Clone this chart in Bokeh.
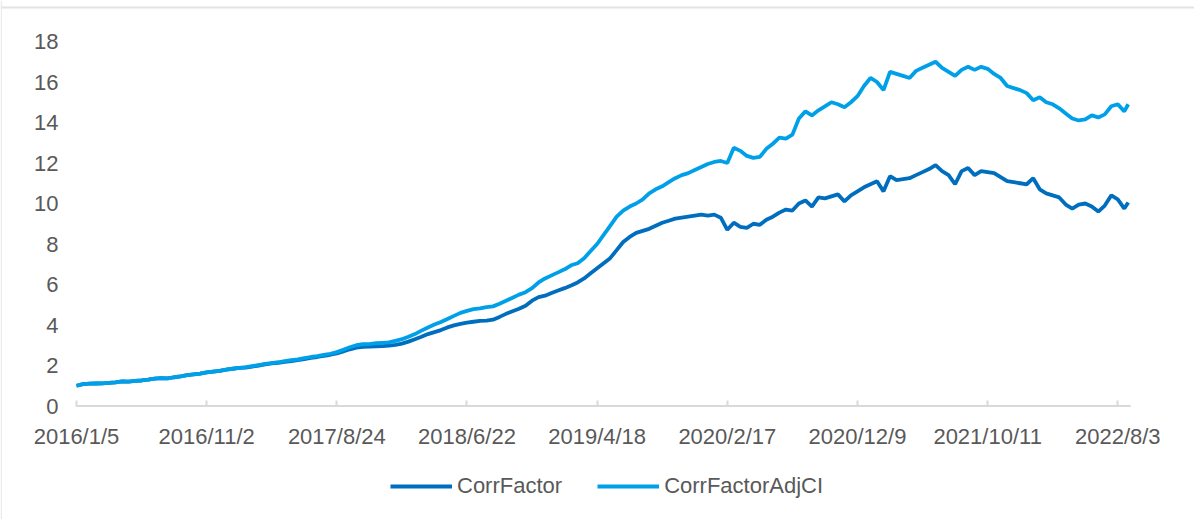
from bokeh.plotting import figure
from bokeh.models import ColumnDataSource, FixedTicker, Legend, LegendItem, Range1d, Span
from bokeh.embed import file_html
from bokeh.resources import INLINE

# trading-day index of each sampled point (every 10th trading day)
day_index = list(range(0, 1611, 10)) + [1616]

corr_factor_adj_ci = [
    1.00, 1.08, 1.10, 1.11, 1.12, 1.14, 1.17, 1.22, 1.20, 1.24, 1.26, 1.30, 1.35, 1.38, 1.36, 1.42, 1.46, 1.52, 1.56, 1.60, 1.66, 1.70, 1.74, 1.80, 1.84, 1.88,
    1.92, 1.97, 2.02, 2.08, 2.12, 2.16, 2.22, 2.26, 2.30, 2.36, 2.42, 2.46, 2.52, 2.58, 2.66, 2.78, 2.90, 3.00, 3.05, 3.06, 3.10, 3.12, 3.14, 3.22, 3.30,
    3.42, 3.55, 3.72, 3.88, 4.02, 4.15, 4.30, 4.45, 4.60, 4.70, 4.78, 4.82, 4.88, 4.92, 5.05, 5.20, 5.35, 5.50, 5.62, 5.82, 6.10, 6.30, 6.45, 6.60, 6.75,
    6.95, 7.05, 7.30, 7.65, 8.00, 8.45, 8.90, 9.35, 9.65, 9.85, 10.00, 10.20, 10.50, 10.70, 10.85, 11.05, 11.25, 11.40, 11.50, 11.65, 11.80, 11.95, 12.05, 12.10, 12.00,
    12.75, 12.60, 12.35, 12.25, 12.30, 12.70, 12.95, 13.25, 13.20, 13.40, 14.20, 14.55, 14.35, 14.60, 14.80, 15.00, 14.90, 14.75, 15.00, 15.30, 15.80, 16.20, 16.00, 15.60, 16.50,
    16.40, 16.30, 16.20, 16.55, 16.70, 16.85, 17.00, 16.70, 16.50, 16.30, 16.60, 16.75, 16.60, 16.75, 16.65, 16.40, 16.20, 15.80, 15.70, 15.60, 15.45, 15.10, 15.25, 15.00, 14.90,
    14.70, 14.45, 14.20, 14.10, 14.15, 14.35, 14.25, 14.40, 14.80, 14.90, 14.55,
    14.90,
]

corr_factor = [
    1.00, 1.08, 1.10, 1.11, 1.12, 1.14, 1.17, 1.22, 1.20, 1.24, 1.26, 1.30, 1.35, 1.38, 1.36, 1.42, 1.46, 1.52, 1.56, 1.60, 1.66, 1.70, 1.74, 1.80, 1.84, 1.88,
    1.90, 1.95, 2.00, 2.05, 2.10, 2.13, 2.18, 2.22, 2.27, 2.32, 2.38, 2.42, 2.48, 2.53, 2.60, 2.70, 2.80, 2.88, 2.92, 2.93, 2.95, 2.96, 2.98, 3.02, 3.08,
    3.18, 3.30, 3.42, 3.55, 3.65, 3.75, 3.88, 3.98, 4.06, 4.12, 4.16, 4.20, 4.22, 4.26, 4.40, 4.55, 4.68, 4.80, 4.95, 5.20, 5.38, 5.45, 5.58, 5.70, 5.82,
    5.95, 6.10, 6.30, 6.55, 6.80, 7.05, 7.30, 7.70, 8.10, 8.35, 8.55, 8.65, 8.75, 8.90, 9.05, 9.15, 9.25, 9.30, 9.35, 9.40, 9.45, 9.40, 9.45, 9.30, 8.70,
    9.05, 8.85, 8.80, 9.00, 8.95, 9.20, 9.35, 9.55, 9.70, 9.65, 10.00, 10.15, 9.85, 10.30, 10.25, 10.35, 10.45, 10.10, 10.40, 10.60, 10.80, 10.95, 11.10, 10.60, 11.35,
    11.15, 11.20, 11.25, 11.40, 11.55, 11.70, 11.90, 11.60, 11.40, 10.95, 11.60, 11.75, 11.40, 11.60, 11.55, 11.50, 11.30, 11.10, 11.05, 11.00, 10.95, 11.25, 10.70, 10.50, 10.40,
    10.30, 9.95, 9.75, 9.95, 10.00, 9.85, 9.60, 9.90, 10.40, 10.20, 9.75,
    10.05,
]

tick_positions = [0, 200, 400, 600, 800, 1000, 1200, 1400, 1600]
tick_labels = ["2016/1/5", "2016/11/2", "2017/8/24", "2018/6/22", "2019/4/18",
               "2020/2/17", "2020/12/9", "2021/10/11", "2022/8/3"]
y_ticks = [0, 2, 4, 6, 8, 10, 12, 14, 16, 18]

src = ColumnDataSource(dict(x=day_index, cf=corr_factor, adj=corr_factor_adj_ci))

FONT = "Liberation Sans"
TXT = "#595959"
W, H = 1194, 519

# pixel geometry of the reference: day 0 at px 76, day 1600 at px 1117.3;
# value 18 at px 41, value 0 at px 405.5.  The frame covers the whole canvas so
# that the axes (pinned at 0) and the legend are never clipped.
PX_PER_DAY = (1117.3 - 76) / 1600
PX_PER_UNIT = (405.5 - 41) / 18
X0 = -76 / PX_PER_DAY
X1 = (W - 76) / PX_PER_DAY
Y1 = 18 + 41 / PX_PER_UNIT
Y0 = -(H - 405.5) / PX_PER_UNIT
AXIS_END = 1620  # last trading-day slot of the category axis

p = figure(width=W, height=H, output_backend="svg", toolbar_location=None,
           x_range=Range1d(X0, X1), y_range=Range1d(Y0, Y1),
           min_border_left=0, min_border_right=0, min_border_top=0, min_border_bottom=0)
p.outline_line_color = None
p.xgrid.visible = False
p.ygrid.visible = False
p.background_fill_color = "white"
p.border_fill_color = "white"

# chart-area border (top and left edges visible in the reference)
p.add_layout(Span(location=Y1 - 7 / PX_PER_UNIT, dimension="width",
                  line_color="#E3E3E3", line_width=2))
p.add_layout(Span(location=X0 + 0.8 / PX_PER_DAY, dimension="height",
                  line_color="#EBEBEB", line_width=1.5))

# category-axis baseline
p.segment(x0=[0], y0=[0], x1=[AXIS_END], y1=[0], line_color="#D9D9D9", line_width=2)

r1 = p.line("x", "cf", source=src, line_color="#006EBE", line_width=3.8)
r2 = p.line("x", "adj", source=src, line_color="#00A0E9", line_width=3.8)

xa = p.xaxis[0]
xa.fixed_location = 0
xa.ticker = FixedTicker(ticks=tick_positions)
xa.major_label_overrides = {t: l for t, l in zip(tick_positions, tick_labels)}
xa.axis_line_color = None
xa.major_tick_line_color = "#D9D9D9"
xa.major_tick_line_width = 2
xa.major_tick_in = 6
xa.major_tick_out = 0
xa.minor_tick_line_color = None
xa.major_label_text_font = FONT
xa.major_label_text_font_size = "22px"
xa.major_label_text_color = TXT
xa.major_label_standoff = 18

ya = p.yaxis[0]
ya.fixed_location = 0
ya.ticker = FixedTicker(ticks=y_ticks)
ya.axis_line_color = None
ya.major_tick_line_color = None
ya.minor_tick_line_color = None
ya.major_tick_in = 0
ya.major_tick_out = 0
ya.major_label_text_font = FONT
ya.major_label_text_font_size = "22px"
ya.major_label_text_color = TXT
ya.major_label_standoff = 18

legend = Legend(items=[LegendItem(label="CorrFactor", renderers=[r1]),
                       LegendItem(label="CorrFactorAdjCI", renderers=[r2])],
                orientation="horizontal", location=(390, 20),
                glyph_width=62, glyph_height=20, label_standoff=5, spacing=35,
                padding=0, margin=0, border_line_color=None, background_fill_alpha=0,
                label_text_font=FONT, label_text_font_size="22px", label_text_color=TXT)
p.add_layout(legend, "center")

open("out.html", "w").write(file_html(p, INLINE))
